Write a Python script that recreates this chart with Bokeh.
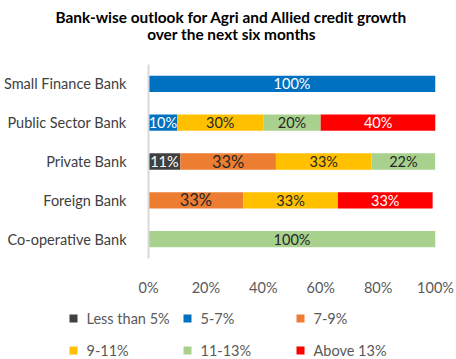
from bokeh.plotting import figure
from bokeh.models import ColumnDataSource, FactorRange, Range1d, FixedTicker, PrintfTickFormatter
from bokeh.layouts import column
from bokeh.embed import file_html
from bokeh.resources import INLINE
from bokeh.core.properties import value

title_lines = ["Bank-wise outlook for Agri and Allied credit growth", "over the next six months"]
banks = ["Small Finance Bank", "Public Sector Bank", "Private Bank", "Foreign Bank", "Co-operative Bank"]
series = ["Less than 5%", "5-7%", "7-9%", "9-11%", "11-13%", "Above 13%"]
less5 = [0, 0, 11.1, 0, 0]
r5_7 = [100, 10, 0, 0, 0]
r7_9 = [0, 0, 33.3, 33, 0]
r9_11 = [0, 30, 33.3, 33, 0]
r11_13 = [0, 20, 22.2, 0, 100]
above13 = [0, 40, 0, 33, 0]
x_ticks = [0, 20, 40, 60, 80, 100]

colors = ["#404040", "#0070C0", "#ED7D31", "#FFC000", "#A9D18E", "#FF0000"]
label_colors = ["#FFFFFF", "#FFFFFF", "#262626", "#262626", "#262626", "#FFFFFF"]
label_sizes = ["14.5px", "14.5px", "16.5px", "14.5px", "14.5px", "14.5px"]
FONT = "Lato"
FS = "14.5px"
W = 456

values = [less5, r5_7, r7_9, r9_11, r11_13, above13]

# ---- title figure
TH = 56
tf = figure(width=W, height=TH, x_range=Range1d(0, W), y_range=Range1d(TH, 0),
            output_backend="svg", toolbar_location=None, min_border=0, frame_align=False)
tf.axis.visible = False
tf.grid.visible = False
tf.outline_line_color = None
tf.text(x=[231, 231], y=[16, 33], text=title_lines, text_font=value(FONT),
        text_font_size="15.4px", text_font_style="bold", text_align="center",
        text_baseline="middle", text_color="#000000")

# ---- main chart
data = {"bank": banks}
for s, v in zip(series, values):
    data[s] = v
src = ColumnDataSource(data)

p = figure(width=W, height=242, y_range=FactorRange(factors=banks[::-1]),
           x_range=Range1d(0, 100), output_backend="svg", toolbar_location=None,
           min_border_left=148, min_border_right=21, min_border_top=8, min_border_bottom=39,
           frame_align=False)
p.hbar_stack(series, y="bank", height=0.42, color=colors, source=src, line_color=None)

lx, ly, lt, lc, ls = [], [], [], [], []
for i, b in enumerate(banks):
    cum = 0
    for k, v in enumerate(values):
        val = v[i]
        if val > 0:
            lx.append(cum + val / 2)
            ly.append(b)
            lt.append(f"{round(val)}%")
            lc.append(label_colors[k])
            ls.append(label_sizes[k])
        cum += val
lsrc = ColumnDataSource(dict(x=lx, y=ly, text=lt, color=lc, size=ls))
p.text(x="x", y="y", text="text", text_color="color", text_font_size="size",
       text_font=value(FONT), text_align="center", text_baseline="middle", source=lsrc)

p.xgrid.visible = False
p.ygrid.visible = False
p.outline_line_color = None
p.xaxis.ticker = FixedTicker(ticks=x_ticks)
p.xaxis.formatter = PrintfTickFormatter(format="%d%%")
p.xaxis.axis_line_color = None
p.xaxis.major_tick_line_color = None
p.xaxis.minor_tick_line_color = None
p.xaxis.major_label_standoff = 14
p.yaxis.axis_line_color = "#D9D9D9"
p.yaxis.axis_line_width = 2
p.yaxis.major_tick_line_color = None
p.yaxis.minor_tick_line_color = None
p.yaxis.major_label_standoff = 16
for ax in (p.xaxis, p.yaxis):
    ax.major_label_text_font = FONT
    ax.major_label_text_font_size = FS
    ax.major_label_text_color = "#595959"
p.yaxis.major_label_text_color = "#404040"

# ---- legend figure
LH = 61
lf = figure(width=W, height=LH, x_range=Range1d(0, W), y_range=Range1d(LH, 0),
            output_backend="svg", toolbar_location=None, min_border=0, frame_align=False)
lf.axis.visible = False
lf.grid.visible = False
lf.outline_line_color = None
col_sq = [73, 187, 300]
row_y = [20, 52]
sx, sy, tx = [], [], []
for k in range(len(series)):
    sx.append(col_sq[k % 3])
    sy.append(row_y[k // 3])
    tx.append(col_sq[k % 3] + 13)
lf.scatter(x=sx, y=sy, marker="square", size=8, color=colors, line_color=None)
lf.text(x=tx, y=sy, text=series, text_font=value(FONT), text_font_size=FS,
        text_color="#595959", text_baseline="middle", text_align="left")

layout = column(tf, p, lf, spacing=0)
open("out.html", "w").write(file_html(layout, INLINE))
